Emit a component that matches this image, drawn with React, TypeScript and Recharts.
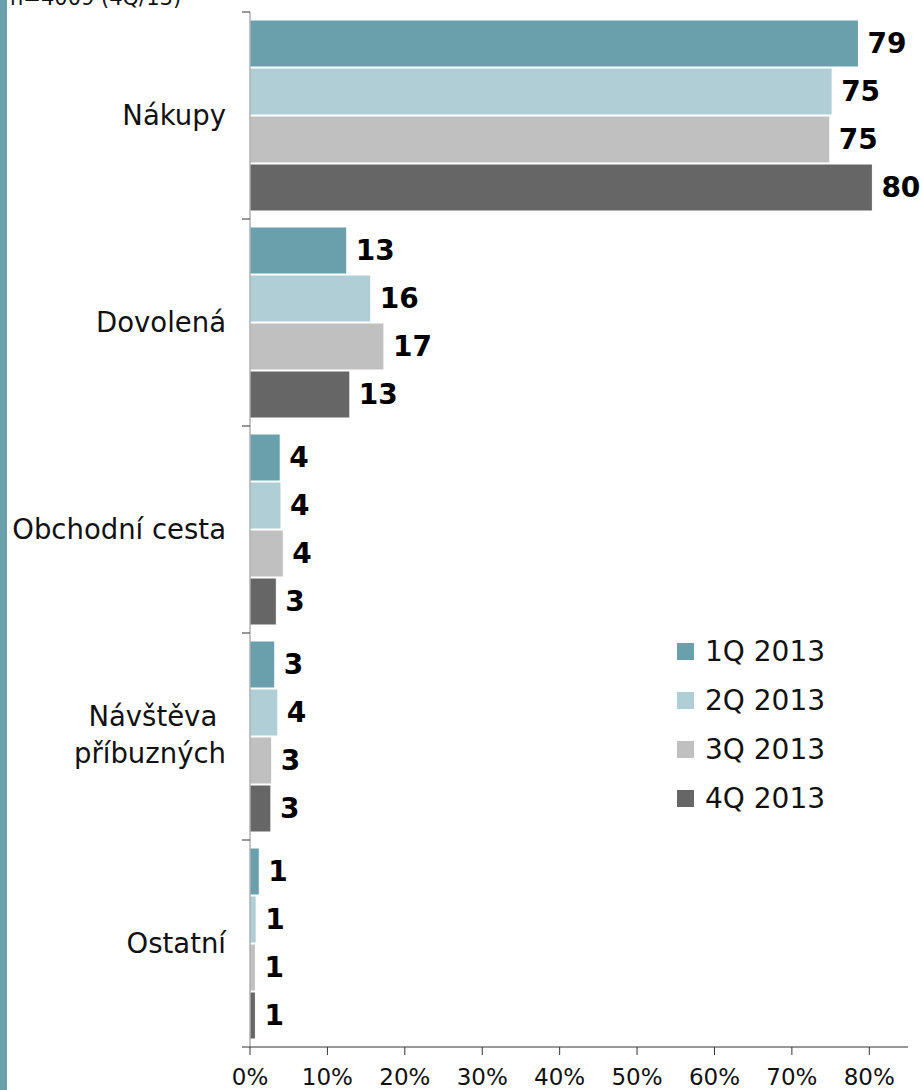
import { Bar, BarChart, LabelList, XAxis, YAxis } from "recharts";

const categories = ["Nákupy", "Dovolená", "Obchodní cesta", "Návštěva \npříbuzných", "Ostatní"];
const q1 = [78.6, 12.5, 3.9, 3.2, 1.2];
const q2 = [75.2, 15.6, 4.0, 3.6, 0.8];
const q3 = [74.9, 17.3, 4.3, 2.8, 0.7];
const q4 = [80.4, 12.9, 3.4, 2.7, 0.7];
const seriesNames = ["1Q 2013", "2Q 2013", "3Q 2013", "4Q 2013"];
const colors = ["#6a9fac", "#afced5", "#c0c0c0", "#666666"];
const xTicks = [0, 10, 20, 30, 40, 50, 60, 70, 80];

const data = categories.map((name, i) => ({
  name,
  q1: q1[i],
  q2: q2[i],
  q3: q3[i],
  q4: q4[i],
}));

const FONT = "'DejaVu Sans', Verdana, sans-serif";
const W = 923;
const H = 1090;
const TOP = 12;
const AXIS_H = 43;
const bandSize = (H - TOP - AXIS_H) / categories.length;

function CategoryTick(props: any) {
  const { x, y, payload, index } = props;
  const axisX = x + 24;
  const lines = String(payload.value).split("\n");
  const top = y - bandSize / 2;
  return (
    <g>
      <line x1={axisX - 8} x2={axisX} y1={top} y2={top} stroke="#333" />
      {index === categories.length - 1 && (
        <line x1={axisX - 8} x2={axisX} y1={y + bandSize / 2} y2={y + bandSize / 2} stroke="#333" />
      )}
      <text x={x} y={y} textAnchor="end" fontSize={27.5} fontFamily={FONT} fill="#111">
        {lines.map((l, i) => (
          <tspan key={i} x={x} dy={i === 0 ? (lines.length > 1 ? -11 : 9) : 37} style={{ whiteSpace: "pre" }}>
            {l}
          </tspan>
        ))}
      </text>
    </g>
  );
}

export default function App() {
  const keys = ["q1", "q2", "q3", "q4"];
  return (
    <div style={{ position: "absolute", left: 0, top: 0, width: W, height: H, background: "#fff", overflow: "hidden" }}>
      <div style={{ position: "absolute", left: 0, top: 0, width: 7, height: H, background: "#6a9fac" }} />
      <div style={{ position: "absolute", left: 10, top: -14, fontFamily: FONT, fontSize: 21, color: "#111", whiteSpace: "nowrap" }}>
        n=4009 (4Q/13)
      </div>
      <BarChart
        width={W}
        height={H}
        data={data}
        layout="vertical"
        margin={{ top: TOP, right: 15, left: 0, bottom: 0 }}
        barCategoryGap={8}
        barGap={1}
      >
        <XAxis
          type="number"
          domain={[0, 85]}
          ticks={xTicks}
          allowDataOverflow
          height={AXIS_H}
          tickFormatter={(v) => `${v}%`}
          tick={{ fontSize: 23, fontFamily: FONT, fill: "#111" }}
          tickSize={8}
          tickMargin={14}
          stroke="#333"
        />
        <YAxis
          type="category"
          dataKey="name"
          width={250}
          tickLine={false}
          tickSize={8}
          tickMargin={16}
          tick={<CategoryTick />}
          stroke="#888"
          interval={0}
        />
        {keys.map((k, i) => (
          <Bar key={k} dataKey={k} name={seriesNames[i]} fill={colors[i]} stroke="#fff" strokeWidth={1} isAnimationActive={false}>
            <LabelList
              dataKey={k}
              position="right"
              offset={9}
              formatter={(v: any) => Math.round(Number(v))}
              style={{ fontSize: 28, fontWeight: "bold", fontFamily: FONT, fill: "#000" }}
            />
          </Bar>
        ))}
      </BarChart>
      <div style={{ position: "absolute", left: 677, top: 627, fontFamily: FONT, fontSize: 28, color: "#111" }}>
        {seriesNames.map((n, i) => (
          <div key={n} style={{ display: "flex", alignItems: "center", height: 49 }}>
            <span style={{ display: "inline-block", width: 17, height: 17, background: colors[i], marginRight: 11 }} />
            {n}
          </div>
        ))}
      </div>
    </div>
  );
}
